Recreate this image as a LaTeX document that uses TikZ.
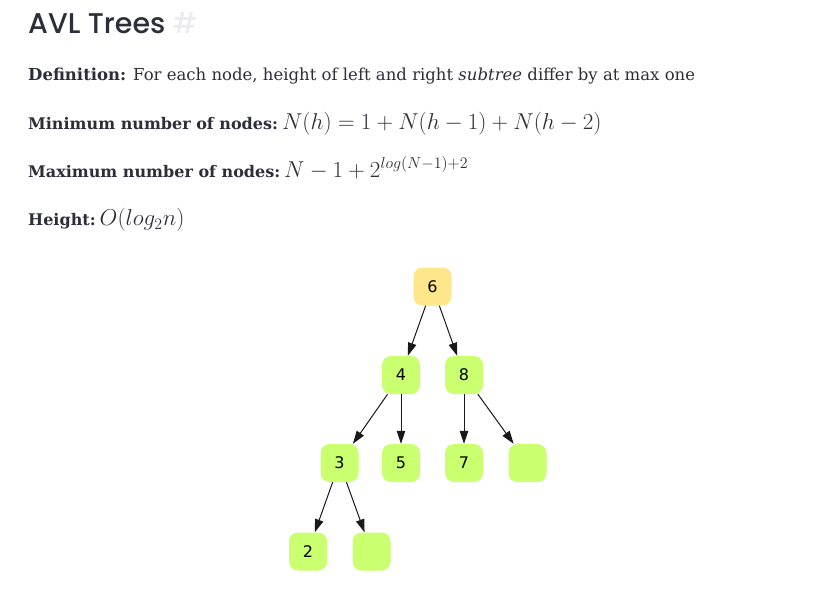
\documentclass[tikz,border=0pt]{standalone}
\usepackage{graphicx}
\usepackage{fontspec}
\setmainfont{DejaVu Serif}
\newfontfamily\titlefont{Poppins}[UprightFont={* Medium}]
\newfontfamily\nodefont{DejaVu Sans}
\usetikzlibrary{arrows.meta}
\definecolor{ink}{HTML}{2E2E3A}
\definecolor{hashgray}{HTML}{ECECEF}
\definecolor{rootfill}{HTML}{FFE68A}
\definecolor{leaffill}{HTML}{CAFF70}
\newcommand{\bigmath}[1]{\scalebox{1.33}{$#1$}}
\tikzset{
  txt/.style={anchor=base west, inner sep=0pt, text=ink, font=\fontsize{16.5}{20}\selectfont},
  tnode/.style={rounded corners=9pt, minimum width=38pt, minimum height=38pt, inner sep=0pt, font=\nodefont\fontsize{16}{18}\selectfont, text=black},
  green/.style={tnode, fill=leaffill},
  yellow/.style={tnode, fill=rootfill},
  arr/.style={-{Triangle[length=13pt,width=8.5pt]}, line width=1pt, draw=black!90}
}
\begin{document}
\begin{tikzpicture}[x=1pt,y=-1pt]
\useasboundingbox (0,0) rectangle (813,607);
\fill[white] (0,0) rectangle (813,607);
\node[txt, font=\titlefont\fontsize{28.5}{32}\selectfont] (title) at (28,33.3) {AVL Trees \textcolor{hashgray}{\#}};
\node[txt] (def) at (28,80.7) {\textbf{Definition:} For each node, height of left and right \textit{subtree} differ by at max one};
\node[txt] (min) at (28,129.3) {\textbf{\fontsize{16}{20}\selectfont Minimum number of nodes:}\hspace{4pt}\bigmath{N(h)=1+N(h-1)+N(h-2)}};
\node[txt] (max) at (28,177.3) {\textbf{\fontsize{16}{20}\selectfont Maximum number of nodes:}\hspace{4pt}\bigmath{N-1+2^{log(N-1)+2}}};
\node[txt] (hgt) at (28,225.7) {\textbf{\fontsize{16}{20}\selectfont Height:}\hspace{4pt}\bigmath{O(log_2n)}};

\node[yellow] (n6) at (432.5,286.5) {6};
\node[green] (n4) at (401,375) {4};
\node[green] (n8) at (464,375) {8};
\node[green] (n3) at (339.5,463) {3};
\node[green] (n5) at (401,463) {5};
\node[green] (n7) at (464,463) {7};
\node[green] (e1) at (527.5,463) {};
\node[green] (n2) at (308,551.5) {2};
\node[green] (e2) at (371.5,551.5) {};

\draw[arr] (n6) -- (n4);
\draw[arr] (n6) -- (n8);
\draw[arr] (n4) -- (n3);
\draw[arr] (n4) -- (n5);
\draw[arr] (n8) -- (n7);
\draw[arr] (n8) -- (e1);
\draw[arr] (n3) -- (n2);
\draw[arr] (n3) -- (e2);
\end{tikzpicture}
\end{document}
